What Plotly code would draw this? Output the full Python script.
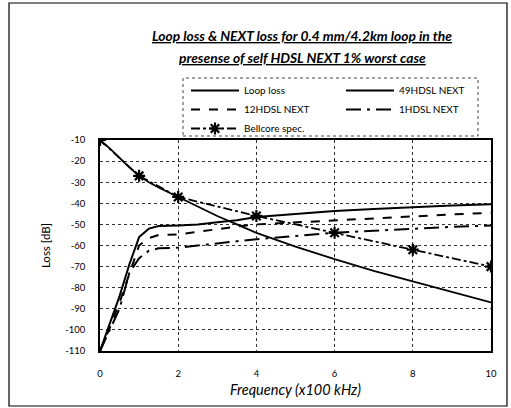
import plotly.graph_objects as go

freq = [0, 0.25, 0.5, 0.75, 1, 1.25, 1.5, 2, 2.5, 3, 3.5, 4, 5, 6, 7, 8, 9, 10]
loop_loss = [-10, -14, -18.5, -23, -27, -30, -32.5, -37, -41.5, -46, -50, -54,
             -60.5, -66.5, -72, -77, -82, -87]
hdsl49 = [-110, -97, -84, -69, -56, -52, -50.8, -50.5, -50, -49, -48, -46.5,
          -45, -43.7, -42.7, -41.8, -41, -40.5]
hdsl12 = [-110, -99, -87, -73, -60, -56.5, -55, -54.8, -53.5, -52, -51, -50,
          -49, -48, -47, -46, -45.3, -44.5]
hdsl1 = [-110, -100, -90, -73, -66, -62.5, -61.3, -61, -60, -59, -58, -57,
         -55.5, -54, -53, -52, -51.2, -50.5]
bell_freq = [0, 1, 2, 4, 6, 8, 10]
bellcore = [-10, -27, -37, -46, -54, -62, -70]

x_ticks = [0, 2, 4, 6, 8, 10]
y_ticks = list(range(-110, 0, 10))
y_ticktext = ["%d" % v for v in y_ticks]

FONT = "Lato"
fig = go.Figure()
fig.add_trace(go.Scatter(x=freq, y=loop_loss, mode="lines", name="Loop loss",
                         line=dict(color="black", width=1.8), legend="legend"))
fig.add_trace(go.Scatter(x=freq, y=hdsl12, mode="lines", name="12HDSL NEXT",
                         line=dict(color="black", width=2, dash="dash"), legend="legend"))
fig.add_trace(go.Scatter(x=bell_freq, y=bellcore, mode="lines+markers", name="Bellcore spec.",
                         line=dict(color="black", width=1.8, dash="dashdot"),
                         marker=dict(symbol="asterisk-open", size=10, color="black",
                                     line=dict(color="black", width=2.2)),
                         legend="legend"))
fig.add_trace(go.Scatter(x=freq, y=hdsl49, mode="lines", name="49HDSL NEXT",
                         line=dict(color="black", width=2), legend="legend2"))
fig.add_trace(go.Scatter(x=freq, y=hdsl1, mode="lines", name="1HDSL NEXT",
                         line=dict(color="black", width=2, dash="longdashdot"), legend="legend2"))

W, H = 511, 408
L, R, T, B = 100, 20, 140, 57
pw, ph = W - L - R, H - T - B

def px(xp):
    return (xp - L) / pw

def py(yp):
    return (H - B - yp) / ph

fig.update_layout(
    width=W, height=H,
    margin=dict(l=L, r=R, t=T, b=B),
    paper_bgcolor="white", plot_bgcolor="white",
    font=dict(family=FONT, color="black"),
    showlegend=True,
    legend=dict(x=px(186), y=py(76), xanchor="left", yanchor="top",
                bgcolor="rgba(0,0,0,0)", borderwidth=0, itemwidth=48,
                font=dict(size=10, family=FONT), tracegroupgap=0),
    legend2=dict(x=px(341), y=py(76), xanchor="left", yanchor="top",
                 bgcolor="rgba(0,0,0,0)", borderwidth=0, itemwidth=48,
                 font=dict(size=10, family=FONT), tracegroupgap=0),
    xaxis=dict(range=[0, 10], tickvals=x_ticks, showgrid=True, gridcolor="#333",
               griddash="dot", gridwidth=1, showline=True, linecolor="black",
               linewidth=1.5, mirror=True, ticks="", zeroline=False,
               tickfont=dict(size=9.5, family=FONT), ticklabelstandoff=13,
               title=dict(text="<i>Frequency (x100 kHz)</i>", font=dict(size=14.5, family=FONT),
                          standoff=7)),
    yaxis=dict(range=[-110, -10], tickvals=y_ticks, ticktext=y_ticktext, showgrid=True,
               gridcolor="#333", griddash="dot", gridwidth=1, showline=True, linecolor="black",
               linewidth=1.5, mirror=True, ticks="", zeroline=False,
               tickfont=dict(size=9.5, family=FONT), ticklabelstandoff=11,
               title=dict(text="Loss [dB]", font=dict(size=11.5, family=FONT), standoff=12)),
    annotations=[
        dict(text="<b><i><u>Loop loss & NEXT loss for 0.4 mm/4.2km loop in the</u></i></b>",
             x=px(302), y=py(35), xref="paper", yref="paper", showarrow=False,
             xanchor="center", yanchor="middle", font=dict(size=13.8, family=FONT)),
        dict(text="<b><i><u>presense of self HDSL NEXT 1% worst case</u></i></b>",
             x=px(302), y=py(57), xref="paper", yref="paper", showarrow=False,
             xanchor="center", yanchor="middle", font=dict(size=13.8, family=FONT)),
    ],
    shapes=[
        dict(type="rect", xref="paper", yref="paper", x0=px(9), x1=px(507),
             y0=py(406), y1=py(3), line=dict(color="black", width=1.2)),
        dict(type="rect", xref="paper", yref="paper", x0=px(183), x1=px(478),
             y0=py(136), y1=py(78), line=dict(color="#444", width=1, dash="dot")),
    ],
)

fig.write_html("out.html", config={"displayModeBar": False},
               post_script="document.body.style.margin='0';document.body.style.overflow='hidden';")
